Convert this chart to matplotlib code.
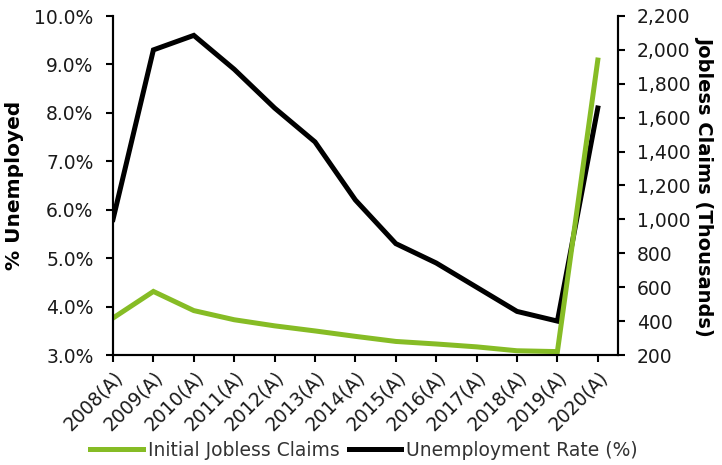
import matplotlib
matplotlib.use("Agg")
import matplotlib.pyplot as plt
from matplotlib.ticker import FuncFormatter

years = ["2008(A)", "2009(A)", "2010(A)", "2011(A)", "2012(A)", "2013(A)", "2014(A)",
         "2015(A)", "2016(A)", "2017(A)", "2018(A)", "2019(A)", "2020(A)"]
unemployment_rate = [5.8, 9.3, 9.6, 8.9, 8.1, 7.4, 6.2, 5.3, 4.9, 4.4, 3.9, 3.7, 8.1]
jobless_claims = [418, 575, 462, 408, 372, 342, 310, 280, 265, 248, 225, 220, 1940]

green = "#86BC25"
plt.rcParams['font.family'] = ['DejaVu Sans']

fig = plt.figure(figsize=(7.22, 4.65), dpi=100)
ax = fig.add_axes([113/722, 1-355/465, (618-113)/722, (355-16)/465])
ax2 = ax.twinx()

x = list(range(len(years)))
l1, = ax.plot(x, unemployment_rate, color="black", lw=3.6, solid_joinstyle="miter",
              label="Unemployment Rate (%)")
l2, = ax2.plot(x, jobless_claims, color=green, lw=3.6, solid_joinstyle="miter",
               label="Initial Jobless Claims")

ax.set_xlim(0, 12.5)
ax.set_ylim(3.0, 10.0)
ax2.set_ylim(200, 2200)
ax.set_yticks([3, 4, 5, 6, 7, 8, 9, 10])
ax.yaxis.set_major_formatter(FuncFormatter(lambda v, p: f"{v:.1f}%"))
ax2.set_yticks(list(range(200, 2201, 200)))
ax2.yaxis.set_major_formatter(FuncFormatter(lambda v, p: f"{int(v):,}"))

ax.set_xticks(x)
ax.set_xticklabels(years, rotation=45, ha="right", rotation_mode="anchor")

for a in (ax, ax2):
    a.spines["top"].set_visible(False)
    for s in a.spines.values():
        s.set_linewidth(1.5)
        s.set_color("black")
    a.tick_params(axis="both", direction="out", length=5, width=1.5,
                  labelsize=13.5, colors="black", labelcolor="#1a1a1a")
ax.tick_params(axis="y", pad=9)
ax2.tick_params(axis="y", pad=8.5)
ax.tick_params(axis="x", pad=4)

ax.set_ylabel("% Unemployed", fontsize=14.5, fontweight="bold", va="center")
ax.yaxis.set_label_coords((15-113)/505, 0.5)
ax2.set_ylabel("Jobless Claims (Thousands)", fontsize=14, fontweight="bold",
               rotation=270, va="center")
ax2.yaxis.set_label_coords((705-113)/505, 0.5)

fig.legend(handles=[l2, l1], labels=["Initial Jobless Claims", "Unemployment Rate (%)"],
           loc="center", bbox_to_anchor=(364/722, 1-450/465), ncol=2, frameon=False,
           fontsize=13.5, handlelength=2.8, handletextpad=0.25, columnspacing=0.5,
           labelcolor="#333333")

fig.savefig("out.png", dpi=100)
